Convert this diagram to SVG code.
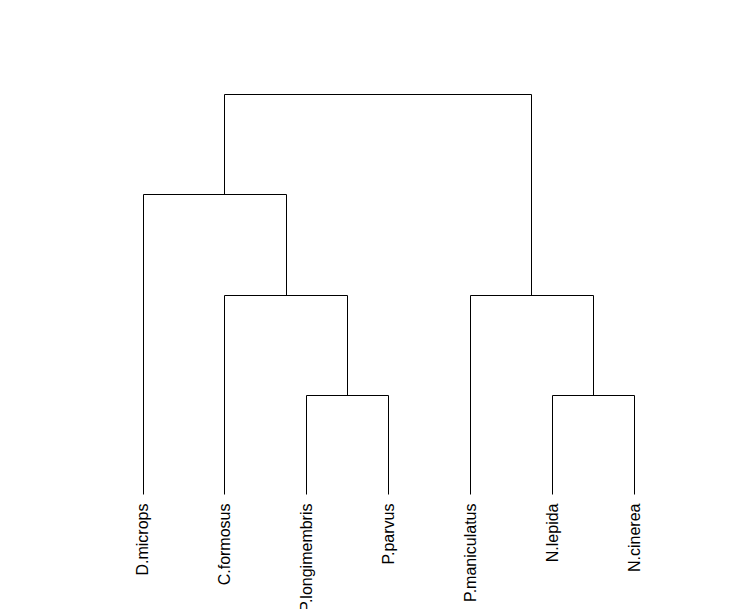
<svg xmlns="http://www.w3.org/2000/svg" width="738" height="609" viewBox="0 0 738 609">
<style>
.e{fill:none;stroke:#000;stroke-width:1}
.t{font-family:"Liberation Sans",Arial,sans-serif;font-size:16px;fill:#000;text-anchor:end}
</style>
<rect width="738" height="609" fill="#fff"/>
<g id="connectors">
<path class="e" d="M224.5,194.5 V94.5 H531.5 V295.5"/>
<path class="e" d="M143.5,494.5 V194.5 H286.5 V295.5"/>
<path class="e" d="M224.5,494.5 V295.5 H347.5 V395.5"/>
<path class="e" d="M306.5,494.5 V395.5 H388.5 V494.5"/>
<path class="e" d="M470.5,494.5 V295.5 H593.5 V395.5"/>
<path class="e" d="M552.5,494.5 V395.5 H634.5 V494.5"/>
</g>
<g id="leaf-D.microps"><text class="t" transform="translate(148,503.5) rotate(-90)">D.microps</text></g>
<g id="leaf-C.formosus"><text class="t" transform="translate(229.5,503.5) rotate(-90)">C.formosus</text></g>
<g id="leaf-P.longimembris"><text class="t" transform="translate(311.5,503.5) rotate(-90)">P.longimembris</text></g>
<g id="leaf-P.parvus"><text class="t" transform="translate(393.5,503.5) rotate(-90)">P.parvus</text></g>
<g id="leaf-P.maniculatus"><text class="t" transform="translate(475.5,503.5) rotate(-90)">P.maniculatus</text></g>
<g id="leaf-N.lepida"><text class="t" transform="translate(557.5,503.5) rotate(-90)">N.lepida</text></g>
<g id="leaf-N.cinerea"><text class="t" transform="translate(639.5,503.5) rotate(-90)">N.cinerea</text></g>
</svg>
